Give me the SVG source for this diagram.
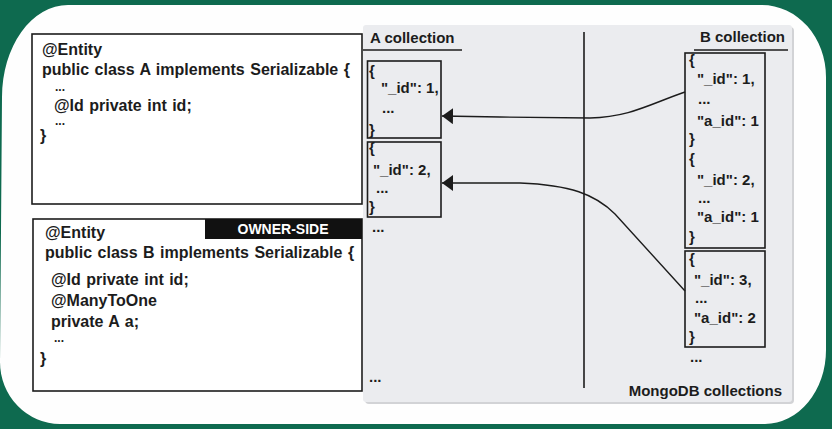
<svg xmlns="http://www.w3.org/2000/svg" width="832" height="429" viewBox="0 0 832 429">
<style>
text{font-family:"Liberation Sans",Arial,sans-serif;font-weight:bold;fill:#1c1c1c}
.code{font-size:16px;word-spacing:1px}
.dots{font-size:12px}
.doc{font-size:15px}
.box{fill:none;stroke:#1c1c1c;stroke-width:1.6}
.cbox{fill:#fff;stroke:#1c1c1c;stroke-width:1.6}
.conn{fill:none;stroke:#1c1c1c;stroke-width:1.4}
</style>
<defs>
<marker id="ah" markerWidth="12" markerHeight="16" refX="11" refY="8" orient="auto" markerUnits="userSpaceOnUse">
<path d="M0,0 L11,8 L0,16 Z" fill="#1c1c1c"/>
</marker>
</defs>
<rect width="832" height="429" fill="#0e6a4f"/>
<path d="M68,5 L762,5 A64,72 0 0 1 826,77 L826,350 A61,74 0 0 1 765,424 L60,424 A60,62 0 0 1 0,362 L2,97 A66,92 0 0 1 68,5 Z" fill="#fefefe"/>
<g id="mongo-panel">
<rect x="365" y="27" width="429" height="377" rx="4" fill="#d2d3d6"/>
<rect x="363" y="25" width="429" height="377" rx="3" fill="#ebecef"/>
<line x1="584" y1="32" x2="584" y2="388" stroke="#1c1c1c" stroke-width="1.6"/>
<text x="370" y="43" class="doc">A collection</text>
<line x1="363" y1="50" x2="462" y2="50" stroke="#1c1c1c" stroke-width="1.6"/>
<text x="785" y="42" class="doc" text-anchor="end">B collection</text>
<line x1="694" y1="50" x2="788" y2="50" stroke="#1c1c1c" stroke-width="1.6"/>
<text x="782" y="396" class="doc" text-anchor="end">MongoDB collections</text>
<text x="372" y="232" class="doc">...</text>
<text x="369" y="382" class="doc">...</text>
<text x="690" y="362" class="doc">...</text>
</g>
<g id="entityA">
<rect x="32" y="34" width="330" height="170" class="cbox"/>
<text class="code" x="42" y="55">@Entity</text>
<text class="code" x="42" y="75">public class A implements Serializable {</text>
<text class="code dots" x="55" y="91">...</text>
<text class="code" x="54" y="111">@Id private int id;</text>
<text class="code dots" x="55" y="125">...</text>
<text class="code" x="40" y="141">}</text>
</g>
<g id="entityB">
<rect x="33" y="219" width="329" height="172" class="cbox"/>
<rect x="205" y="219" width="157" height="20" fill="#111"/>
<text x="283" y="234" text-anchor="middle" style="font-size:14px;fill:#fff">OWNER-SIDE</text>
<text class="code" x="45" y="238">@Entity</text>
<text class="code" x="45" y="258">public class B implements Serializable {</text>
<text class="code" x="51" y="285">@Id private int id;</text>
<text class="code" x="51" y="306">@ManyToOne</text>
<text class="code" x="51" y="327">private A a;</text>
<text class="code dots" x="54" y="342">...</text>
<text class="code" x="40" y="364">}</text>
</g>
<g id="a-doc1">
<rect x="367.5" y="61" width="73.5" height="77" class="box"/>
<text class="doc" x="369" y="76">{</text>
<text class="doc" x="381" y="93">"_id": 1,</text>
<text class="doc" x="382" y="113">...</text>
<text class="doc" x="369" y="135">}</text>
</g>
<g id="a-doc2">
<rect x="367.5" y="142" width="73.5" height="75" class="box"/>
<text class="doc" x="369" y="153">{</text>
<text class="doc" x="373" y="175">"_id": 2,</text>
<text class="doc" x="376" y="193">...</text>
<text class="doc" x="369" y="212">}</text>
</g>
<g id="b-doc1">
<rect x="685" y="53" width="80" height="195" class="box"/>
<text class="doc" x="689" y="65">{</text>
<text class="doc" x="697" y="84">"_id": 1,</text>
<text class="doc" x="698" y="104">...</text>
<text class="doc" x="697" y="126">"a_id": 1</text>
<text class="doc" x="689" y="144">}</text>
<text class="doc" x="689" y="164">{</text>
<text class="doc" x="697" y="185">"_id": 2,</text>
<text class="doc" x="698" y="203">...</text>
<text class="doc" x="697" y="222">"a_id": 1</text>
<text class="doc" x="689" y="242">}</text>
</g>
<g id="b-doc2">
<rect x="685" y="251" width="80" height="96" class="box"/>
<text class="doc" x="689" y="264">{</text>
<text class="doc" x="694" y="285">"_id": 3,</text>
<text class="doc" x="695" y="303">...</text>
<text class="doc" x="694" y="323">"a_id": 2</text>
<text class="doc" x="689" y="342">}</text>
</g>
<g id="connectors">
<path class="conn" d="M685,92 C650,104 630,117 590,118 L500,117 L442,116" marker-end="url(#ah)"/>
<path class="conn" d="M685,291 L615,214 C595,194 570,185 520,183 L442,183" marker-end="url(#ah)"/>
</g>
</svg>
